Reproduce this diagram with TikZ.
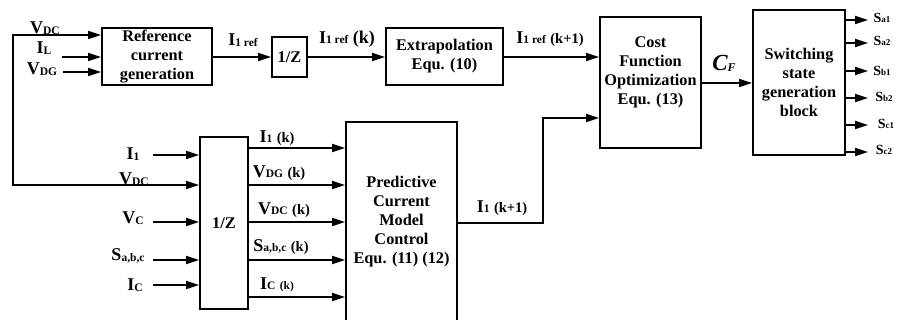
\documentclass[tikz,border=0pt]{standalone}
\usepackage{fontspec}
\setmainfont{Liberation Serif}
\usetikzlibrary{arrows.meta}
\newcommand\sbs[1]{\raisebox{-0.5pt}{\fontsize{11.5}{11.5}\selectfont #1}}
\newcommand\smk[1]{{\fontsize{14.5}{14.5}\selectfont #1}}
\begin{document}
\begin{tikzpicture}[x=1pt,y=-1pt,
  box/.style={draw,line width=1.7pt,inner sep=0pt,align=center,font=\fontsize{16.3}{19}\selectfont\bfseries},
  txt/.style={inner sep=0pt,align=center,font=\fontsize{16.3}{19}\selectfont\bfseries},
  lab/.style={inner sep=0pt,font=\fontsize{18}{18}\selectfont\bfseries},
  slab/.style={inner sep=0pt,font=\fontsize{14}{14}\selectfont\bfseries},
  arr/.style={line width=1.7pt,-{Triangle[length=13pt,width=8pt]}},
  ln/.style={line width=1.7pt}]
\useasboundingbox (0,0) rectangle (897,320);
% boxes
\node[box,minimum width=110pt,minimum height=57pt] (ref) at (157,56.5) {Reference\\current\\generation};
\node[box,minimum width=35pt,minimum height=40pt] (z1) at (289.5,57) {1/Z};
\node[box,minimum width=117pt,minimum height=57pt] (ext) at (444.5,56.5) {Extrapolation\\Equ. (10)};
\node[box,minimum width=101pt,minimum height=131pt] (cost) at (650.5,82.5) {};
\node[txt] (costt) at (650.5,72.5) {Cost\\Function\\Optimization\\Equ. (13)};
\node[box,minimum width=92pt,minimum height=145pt] (sw) at (799,82.5) {Switching\\state\\generation\\block};
\node[box,minimum width=48pt,minimum height=172pt] (z2) at (224,223) {1/Z};
\node[box,minimum width=111pt,minimum height=214pt] (pc) at (401.5,229) {};
\node[txt] (pct) at (401.5,222) {Predictive\\Current\\Model\\Control\\Equ. (11) (12)};
% top inputs
\coordinate (fb) at (13,110);
\coordinate (iL) at (62,57);
\coordinate (vdg) at (63,72);
\draw[arr] (fb) |- (ref.west |- 0,35);
\draw[arr] (fb) |- (z2.west |- 0,185);
\draw[arr] (iL) -- (iL -| ref.west);
\draw[arr] (vdg) -- (vdg -| ref.west);
\node[lab] (lvdc) at (45,28) {V\sbs{DC}};
\node[lab] (lil) at (44,48) {I\sbs{L}};
\node[lab] (lvdg) at (42,69) {V\sbs{DG}};
% top chain
\draw[arr] (ref.east |- z1) -- (z1.west);
\draw[arr] (z1.east) -- (ext.west |- z1);
\draw[arr] (ext.east |- 0,57) -- (cost.west |- 0,57);
\node[lab] (l1) at (243,40) {I\sbs{1 ref}};
\node[lab] (l2) at (347,39) {I\sbs{1 ref} (k)};
\node[lab] (l3) at (550,39) {I\sbs{1 ref} \smk{(k+1)}};
% cost to switching
\draw[arr] (cost.east |- 0,83) -- (sw.west |- 0,83);
\node[inner sep=0pt,font=\fontsize{23}{23}\selectfont\bfseries\itshape] (lcf) at (724,63) {C\raisebox{-1pt}{\fontsize{12}{12}\selectfont F}};
% outputs
\foreach \y/\n/\t/\lx/\ly in {20/a1/a1/882/18, 43/a2/a2/882/41, 71/b1/b1/882/71, 98/b2/b2/884/97, 125/c1/c1/886/124, 152/c2/c2/884/150}{
  \coordinate (o\n) at (868,\y);
  \draw[arr] (sw.east |- o\n) -- (o\n);
  \node[slab] (ls\n) at (\lx,\ly) {S\raisebox{-0.5pt}{\fontsize{9}{9}\selectfont\t}};
}
% bottom inputs
\coordinate (ii1) at (153,155);
\coordinate (ivc) at (153,222);
\coordinate (isa) at (153,260);
\coordinate (iic) at (153,285);
\draw[arr] (ii1) -- (ii1 -| z2.west);
\draw[arr] (ivc) -- (ivc -| z2.west);
\draw[arr] (isa) -- (isa -| z2.west);
\draw[arr] (iic) -- (iic -| z2.west);
\node[lab] (li1) at (133,154) {I\sbs{1}};
\node[lab] (lvdc2) at (134,179) {V\sbs{DC}};
\node[lab] (lvc) at (133,218) {V\sbs{C}};
\node[lab] (lsa) at (128,256) {S\sbs{a,b,c}};
\node[lab] (lic) at (135,285) {I\sbs{C}};
% 1/Z outputs
\foreach \y in {148,185,222,260,297}{
  \draw[arr] (z2.east |- 0,\y) -- (pc.west |- 0,\y);
}
\node[lab] (lo1) at (277,138) {I\sbs{1} \smk{(k)}};
\node[lab] (lo2) at (279,173) {V\sbs{DG} \smk{(k)}};
\node[lab] (lo3) at (284,210) {V\sbs{DC} \smk{(k)}};
\node[lab] (lo4) at (281,247) {S\sbs{a,b,c} \smk{(k)}};
\node[lab] (lo5) at (277,285) {I\sbs{C} \sbs{(k)}};
% pcmc to cost
\coordinate (bend) at (543,223);
\draw[arr] (pc.east |- bend) -- (bend) |- (cost.west |- 0,118);
\node[lab] (lk1) at (502,208) {I\sbs{1} \smk{(k+1)}};
\end{tikzpicture}
\end{document}
